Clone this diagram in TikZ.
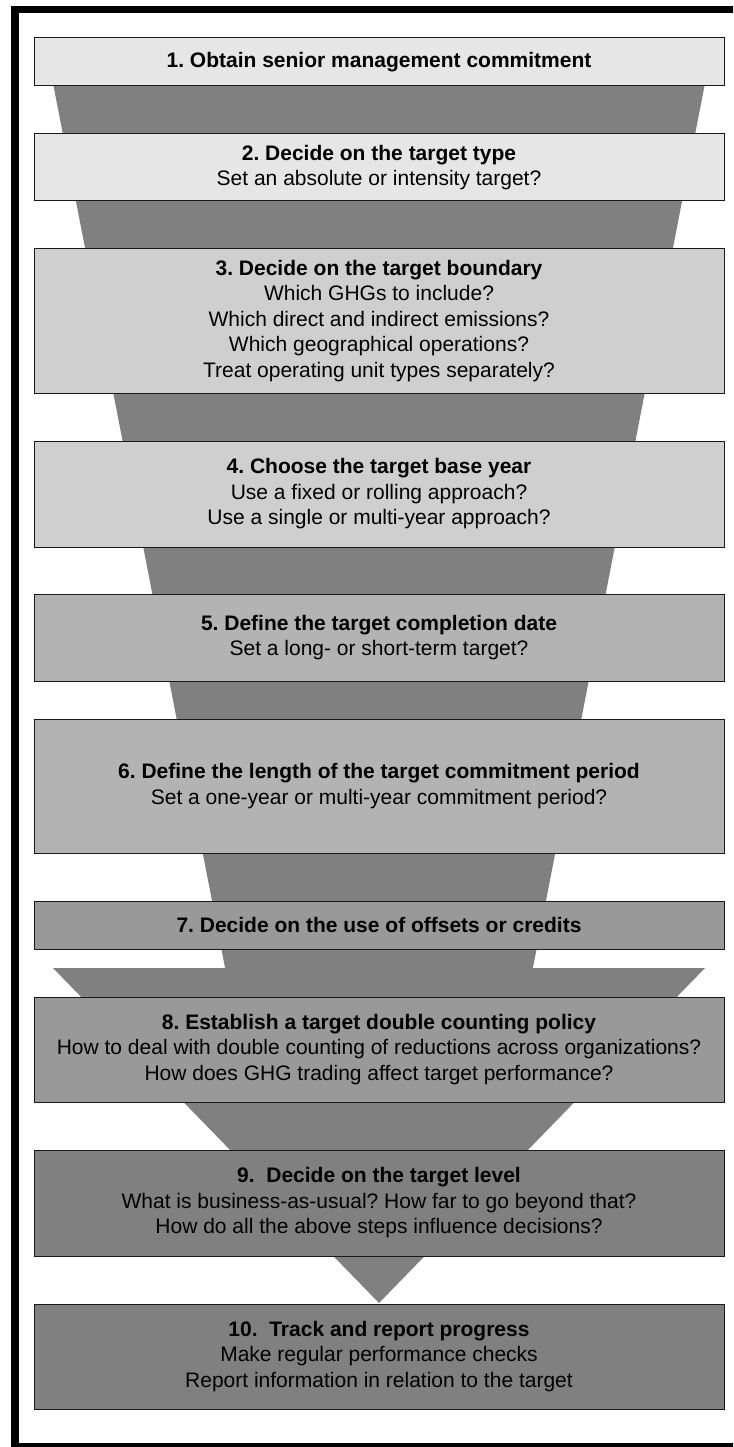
\documentclass[tikz,border=0pt]{standalone}
\usepackage{fontspec}
\setmainfont{Liberation Sans}
\frenchspacing
\definecolor{funnelgray}{HTML}{808080}
\definecolor{boxA}{HTML}{E6E6E6}
\definecolor{boxB}{HTML}{CFCFCF}
\definecolor{boxC}{HTML}{B3B3B3}
\definecolor{boxD}{HTML}{999999}
\definecolor{boxE}{HTML}{808080}
\begin{document}
\begin{tikzpicture}[x=1pt,y=-1pt,
  stepbox/.style={draw=black!90, line width=1pt, minimum width=690pt, inner sep=0pt,
    align=center, font=\fontsize{21}{25.5}\selectfont},
  funnel/.style={fill=funnelgray}]
\useasboundingbox (0,0) rectangle (733,1447);
\clip (0,0) rectangle (733,1447);
% frame
\draw[line width=7.5pt] (15,9.5) rectangle (745,1447);
% funnel shapes
\fill[funnel] (44.2,38) -- (713.8,38) -- (532.9,968) -- (225.1,968) -- cycle;
\fill[funnel] (53,968) -- (705,968) -- (379,1303) -- cycle;
% boxes
\node[stepbox, fill=boxA, minimum height=48pt] (b1) at (379,62)
  {\textbf{1. Obtain senior management commitment}};
\node[stepbox, fill=boxA, minimum height=67pt] (b2) at (379,167.5)
  {\textbf{2. Decide on the target type}\\Set an absolute or intensity target?};
\node[stepbox, fill=boxB, minimum height=144pt] (b3) at (379,321)
  {\textbf{3. Decide on the target boundary}\\Which GHGs to include?\\Which direct and indirect emissions?\\Which geographical operations?\\Treat operating unit types separately?};
\node[stepbox, fill=boxB, minimum height=106pt] (b4) at (379,494)
  {\textbf{4. Choose the target base year}\\Use a fixed or rolling approach?\\Use a single or multi-year approach?};
\node[stepbox, fill=boxC, minimum height=87pt] (b5) at (379,637.5)
  {\textbf{5. Define the target completion date}\\Set a long- or short-term target?};
\node[stepbox, fill=boxC, minimum height=134pt] (b6) at (379,786)
  {\textbf{6. Define the length of the target commitment period}\\Set a one-year or multi-year commitment period?};
\node[stepbox, fill=boxD, minimum height=48pt] (b7) at (379,925)
  {\textbf{7. Decide on the use of offsets or credits}};
\node[stepbox, fill=boxD, minimum height=105pt] (b8) at (379,1049.5)
  {\textbf{8. Establish a target double counting policy}\\How to deal with double counting of reductions across organizations?\\How does GHG trading affect target performance?};
\node[stepbox, fill=boxE, minimum height=106pt] (b9) at (379,1203)
  {\textbf{9.\ \ Decide on the target level}\\What is business-as-usual? How far to go beyond that?\\How do all the above steps influence decisions?};
\node[stepbox, fill=boxE, minimum height=105pt] (b10) at (379,1356.5)
  {\textbf{10.\ \ Track and report progress}\\Make regular performance checks\\Report information in relation to the target};
\end{tikzpicture}
\end{document}
